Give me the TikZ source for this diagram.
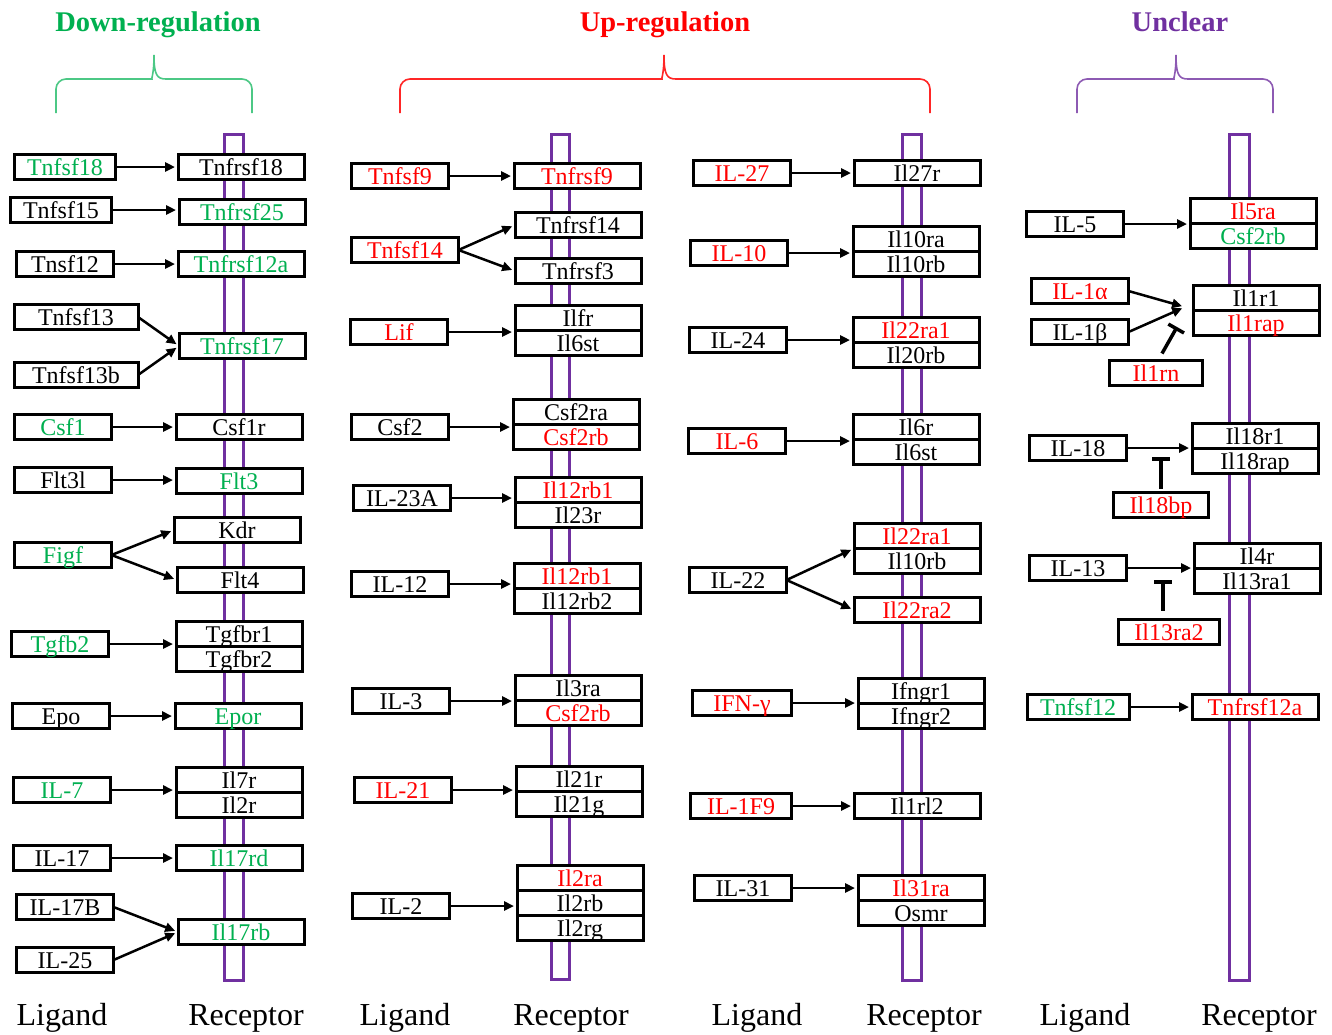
\documentclass[tikz,border=0pt]{standalone}
\usepackage{fontspec}
\setmainfont{Liberation Serif}
\usetikzlibrary{positioning}
\usetikzlibrary{arrows.meta}
\definecolor{dngreen}{RGB}{0,176,80}
\definecolor{upred}{RGB}{255,0,0}
\definecolor{ncpurple}{RGB}{112,48,160}
\colorlet{dnbrace}{dngreen!70!white}
\colorlet{upbrace}{upred!85!white}
\colorlet{ncbrace}{ncpurple!80!white}
\newcommand{\gfont}{\fontsize{24}{25}\selectfont}
% brace over a group: colour, left, tip, right
\newcommand{\grpbrace}[4]{%
  \draw[#1,line width=1.6pt,rounded corners=10pt]
    (#2,113) -- (#2,79) -- ({#3-12},79)
    [sharp corners] .. controls ({#3-3},79) and (#3,75) .. (#3,55)
    .. controls (#3,75) and ({#3+3},79) .. ({#3+12},79)
    [rounded corners=10pt] -- (#4,79) -- (#4,113);}
\tikzset{
  gene/.style={draw,fill=white,line width=3pt,inner sep=0pt,outer sep=0pt,
    minimum height=25pt,text height=17pt,text depth=1pt,font=\gfont},
  lig/.style={gene,minimum width=97pt},
  rec/.style={gene,minimum width=126pt},
  membrane/.style={draw=ncpurple,line width=3pt},
  act/.style={line width=2.5pt,-{Triangle[length=10pt,width=9pt]},shorten >=3pt},
  inhib/.style={line width=3.5pt,-{Bar[width=18pt]}},
  headline/.style={font=\fontsize{28.5}{30}\selectfont\bfseries,anchor=base},
  footlabel/.style={font=\fontsize{32}{34}\selectfont,anchor=base}
}

\begin{document}
\begin{tikzpicture}[x=1pt,y=-1pt]
    \useasboundingbox (0,0) rectangle (1332,1034);
    % Headings
    \node[headline,text=dngreen] (dntitle) at (158,31) {Down-regulation};
    \node[headline,text=upred] (uptitle) at (665,31) {Up-regulation};
    \node[headline,text=ncpurple] (nctitle) at (1180,31) {Unclear};
    \grpbrace{dnbrace}{56}{154}{252}
    \grpbrace{upbrace}{400}{664}{930}
    \grpbrace{ncbrace}{1077}{1176}{1273}
    % Membranes
    \draw[membrane]
      (224,134) rectangle (243,980)
      (551,134) rectangle (569,979)
      (902,134) rectangle (921,980)
      (1229,134) rectangle (1249,980);
    % Ligands
    \foreach \nm/\xx/\yy/\ww/\cl/\tx in {
      l1/65/167/101/dngreen/Tnfsf18, l2/61/210/101/black/Tnfsf15,
      l3/65/264/97/black/Tnsf12, l4/76/317/124/black/Tnfsf13,
      l5/76/375/124/black/Tnfsf13b, l6/63/427/97/dngreen/Csf1,
      l7/63/480/97/black/Flt3l, l8/63/555/97/dngreen/Figf,
      l9/60/644/97/dngreen/Tgfb2, l10/61/716/97/black/Epo,
      l11/62/790/97/dngreen/IL-7, l12/62/858/97/black/IL-17,
      l13/65/907/97/black/IL-17B, l14/65/960/97/black/IL-25,
      m1/400/176/97/upred/Tnfsf9, m2/405/250/107/upred/Tnfsf14,
      m3/399/332/97/upred/Lif, m4/400/427/97/black/Csf2,
      m5/402/498/97/black/IL-23A, m6/400/584/97/black/IL-12,
      m7/401/701/97/black/IL-3, m8/403/790/97/upred/IL-21,
      m9/401/906/97/black/IL-2,
      n1/742/173/97/upred/IL-27, n2/739/253/97/upred/IL-10,
      n3/738/340/97/black/IL-24, n4/737/441/97/upred/IL-6,
      n5/738/580/97/black/IL-22, n6/742/703/99/upred/IFN-γ,
      n7/741/806/101/upred/IL-1F9, n8/743/888/97/black/IL-31,
      u1/1075/224/97/black/IL-5, u2/1080/291/97/upred/IL-1α,
      u3/1080/332/97/black/IL-1β, u4/1156/373/93/upred/Il1rn,
      u5/1078/448/97/black/IL-18, u6/1161/505/95/upred/Il18bp,
      u7/1078/568/97/black/IL-13, u8/1169/632/101/upred/Il13ra2,
      u9/1078/707/102/dngreen/Tnfsf12}
      \node[lig,minimum width=\ww pt,text=\cl] (\nm) at (\xx,\yy) {\tx};
    % Receptors
    \foreach \nm/\xx/\yy/\cl/\tx in {
      r1/241/167/black/Tnfrsf18, r2/242/212/dngreen/Tnfrsf25,
      r3/241/264/dngreen/Tnfrsf12a, r4/242/346/dngreen/Tnfrsf17,
      r5/239/427/black/Csf1r, r6/239/481/dngreen/Flt3,
      r7/237/530/black/Kdr, r8/240/580/black/Flt4,
      r9a/239/634/black/Tgfbr1, r10/238/716/dngreen/Epor,
      r11a/239/780/black/Il7r, r12/239/858/dngreen/Il17rd,
      r13/241/932/dngreen/Il17rb,
      s1/577/176/upred/Tnfrsf9, s2/578/225/black/Tnfrsf14,
      s3/578/271/black/Tnfrsf3, s4a/578/318/black/Ilfr,
      s5a/576/412/black/Csf2ra, s6a/578/490/upred/Il12rb1,
      s7a/577/576/upred/Il12rb1, s8a/578/688/black/Il3ra,
      s9a/579/779/black/Il21r, s10a/580/878/upred/Il2ra,
      t1/917/173/black/Il27r, t2a/916/239/black/Il10ra,
      t3a/916/330/upred/Il22ra1, t4a/916/427/black/Il6r,
      t5a/917/536/upred/Il22ra1, t6/917/610/upred/Il22ra2,
      t7a/921/691/black/Ifngr1, t8/917/806/black/Il1rl2,
      t9a/921/888/upred/Il31ra,
      v1a/1253/211/upred/Il5ra, v2a/1256/298/black/Il1r1,
      v3a/1255/436/black/Il18r1, v4a/1257/556/black/Il4r,
      v5/1255/707/upred/Tnfrsf12a}
      \node[rec,text=\cl] (\nm) at (\xx,\yy) {\tx};
    \foreach \nm/\ab/\cl/\tx in {
      r9b/r9a/black/Tgfbr2, r11b/r11a/black/Il2r,
      s4b/s4a/black/Il6st, s5b/s5a/upred/Csf2rb, s6b/s6a/black/Il23r,
      s7b/s7a/black/Il12rb2, s8b/s8a/upred/Csf2rb, s9b/s9a/black/Il21g,
      s10b/s10a/black/Il2rb, s10c/s10b/black/Il2rg,
      t2b/t2a/black/Il10rb, t3b/t3a/black/Il20rb, t4b/t4a/black/Il6st,
      t5b/t5a/black/Il10rb, t7b/t7a/black/Ifngr2, t9b/t9a/black/Osmr,
      v1b/v1a/dngreen/Csf2rb, v2b/v2a/upred/Il1rap,
      v3b/v3a/black/Il18rap, v4b/v4a/black/Il13ra1}
      \node[rec,text=\cl,below=0pt of \ab] (\nm) {\tx};
    % Arrows
    \foreach \a/\b in {l1/r1, l2/r2, l3/r3, l6/r5, l7/r6, l9/r9a, l10/r10,
      l11/r11a, l12/r12, m1/s1, m3/s4a, m4/s5a, m5/s6a, m6/s7a, m7/s8a,
      m8/s9a, m9/s10b, n1/t1, n2/t2a, n3/t3a, n4/t4a, n6/t7a, n7/t8,
      n8/t9a, u1/v1a, u5/v3a, u7/v4a, u9/v5}
      \draw[act] (\a.east) -- (\a.east -| \b.west);
    \coordinate (il1) at (1185,307);
    \foreach \a/\b in {l4/r4.west, l5/r4.west, l8/r7.west, l8/r8.west,
      l13/r13.west, l14/r13.west, m2/s2.west, m2/s3.west,
      n5/t5a.south west, n5/t6.west, u2/il1, u3/il1}
      \draw[act] (\a.east) -- (\b);
    % Inhibitors
    \coordinate (rnhead) at (1177,327);
    \coordinate (bphead) at (1161,457);
    \coordinate (rahead) at (1163,580);
    \draw[inhib] ([xshift=6pt,yshift=7pt]u4.north) -- (rnhead);
    \draw[inhib] ([yshift=4pt]u6.north) -- (bphead);
    \draw[inhib] ([xshift=-6pt,yshift=9pt]u8.north) -- (rahead);
    % Labels
    \foreach \nm/\xx/\tx in {f1/62/Ligand, f2/246/Receptor, f3/405/Ligand,
      f4/571/Receptor, f5/757/Ligand, f6/924/Receptor, f7/1085/Ligand,
      f8/1259/Receptor}
      \node[footlabel] (\nm) at (\xx,1025) {\tx};
\end{tikzpicture}
\end{document}
